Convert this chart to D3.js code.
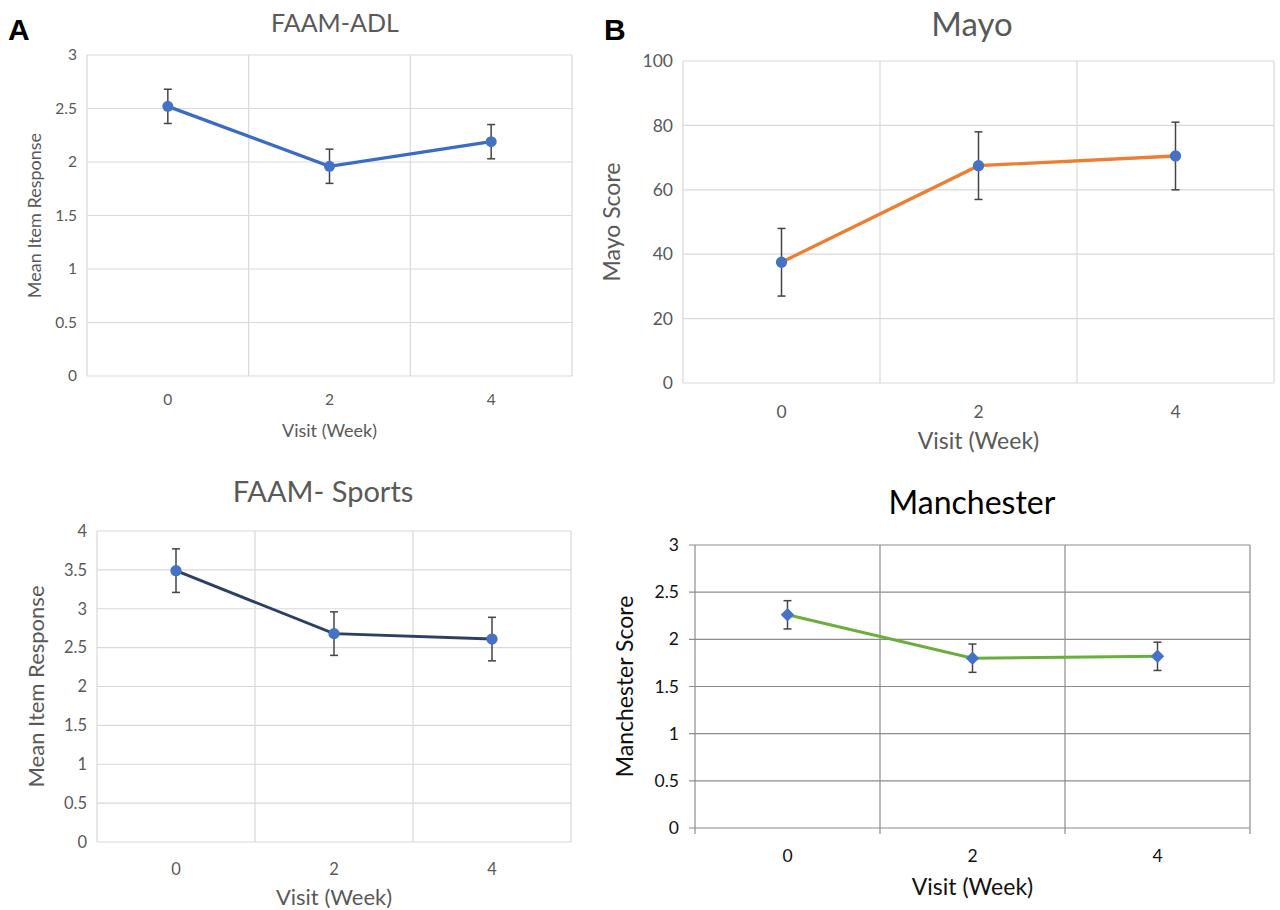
<!DOCTYPE html>
<html>
<head>
<meta charset="utf-8">
<script src="https://cdn.jsdelivr.net/npm/d3@7"></script>
<style>
  body { margin: 0; background: #fff; }
  svg { display: block; font-family: Lato, "Open Sans", sans-serif; }
</style>
</head>
<body>
<div id="wrapper"></div>
<script>
// Dados
const weeks = ["0", "2", "4"];

const adlMean = [2.52, 1.96, 2.19];
const adlErr = [0.16, 0.16, 0.16];
const adlTicks = [0, 0.5, 1, 1.5, 2, 2.5, 3];

const mayoMean = [37.5, 67.5, 70.5];
const mayoErr = [10.5, 10.5, 10.5];
const mayoTicks = [0, 20, 40, 60, 80, 100];

const sportsMean = [3.49, 2.68, 2.61];
const sportsErr = [0.28, 0.28, 0.28];
const sportsTicks = [0, 0.5, 1, 1.5, 2, 2.5, 3, 3.5, 4];

const manMean = [2.26, 1.80, 1.82];
const manErr = [0.15, 0.15, 0.15];
const manTicks = [0, 0.5, 1, 1.5, 2, 2.5, 3];

const svg = d3.select("#wrapper").append("svg")
  .attr("width", 1280).attr("height", 910);

// letras dos paineis
svg.append("text").attr("x", 8).attr("y", 40).text("A")
  .attr("font-family", "Liberation Sans, Arial, sans-serif")
  .attr("font-weight", "bold").attr("font-size", 30).attr("fill", "#000");
svg.append("text").attr("x", 604).attr("y", 40).text("B")
  .attr("font-family", "Liberation Sans, Arial, sans-serif")
  .attr("font-weight", "bold").attr("font-size", 30).attr("fill", "#000");

function panel(cfg) {
  const g = svg.append("g");
  const x = d3.scaleBand().domain(weeks).range([cfg.left, cfg.right]);
  const y = d3.scaleLinear().domain([0, d3.max(cfg.ticks)]).range([cfg.bottom, cfg.top]);

  // grade horizontal
  g.selectAll(".hg").data(cfg.ticks).join("line")
    .attr("x1", cfg.left - cfg.tickOut).attr("x2", cfg.right)
    .attr("y1", d => y(d)).attr("y2", d => y(d))
    .attr("stroke", cfg.grid).attr("stroke-width", 1.2);

  // grade vertical nas fronteiras das categorias
  const bounds = weeks.map(w => x(w)).concat([x(weeks[weeks.length - 1]) + x.bandwidth()]);
  g.selectAll(".vg").data(bounds).join("line")
    .attr("x1", d => d).attr("x2", d => d)
    .attr("y1", cfg.top).attr("y2", cfg.bottom + cfg.tickOut)
    .attr("stroke", cfg.grid).attr("stroke-width", 1.2);

  // rótulos dos ticks
  g.selectAll(".yl").data(cfg.ticks).join("text")
    .attr("x", cfg.left - cfg.tickOut - 10).attr("y", d => y(d))
    .attr("dy", "0.35em").attr("text-anchor", "end")
    .attr("font-size", cfg.tickSize).attr("fill", cfg.text)
    .text(d => d);
  g.selectAll(".xl").data(weeks).join("text")
    .attr("x", d => x(d) + x.bandwidth() / 2).attr("y", cfg.bottom + cfg.xTickGap)
    .attr("dy", "0.35em").attr("text-anchor", "middle")
    .attr("font-size", cfg.tickSize).attr("fill", cfg.text)
    .text(d => d);

  // títulos
  g.append("text").attr("x", cfg.titleX).attr("y", cfg.titleY)
    .attr("text-anchor", "middle").attr("dy", "0.35em")
    .attr("font-size", cfg.titleSize).attr("fill", cfg.titleColor || cfg.text)
    .text(cfg.title);
  g.append("text").attr("x", (cfg.left + cfg.right) / 2).attr("y", cfg.xTitleY)
    .attr("text-anchor", "middle").attr("dy", "0.35em")
    .attr("font-size", cfg.axisSize).attr("fill", cfg.text)
    .text("Visit (Week)");
  g.append("text")
    .attr("transform", "translate(" + cfg.yTitleX + "," + (cfg.top + cfg.bottom) / 2 + ") rotate(-90)")
    .attr("text-anchor", "middle").attr("dy", "0.35em")
    .attr("font-size", cfg.axisSize).attr("fill", cfg.text)
    .text(cfg.yTitle);

  const pts = weeks.map((w, i) => ({ x: x(w) + x.bandwidth() / 2, m: cfg.mean[i], e: cfg.err[i] }));

  // linha
  const line = d3.line().x(d => d.x).y(d => y(d.m));
  g.append("path").attr("d", line(pts))
    .attr("fill", "none").attr("stroke", cfg.lineColor).attr("stroke-width", cfg.lineWidth);

  // barras de erro
  const eb = g.selectAll(".eb").data(pts).join("g").attr("stroke", "#444").attr("stroke-width", 1.5);
  eb.append("line").attr("x1", d => d.x).attr("x2", d => d.x)
    .attr("y1", d => y(d.m - d.e)).attr("y2", d => y(d.m + d.e));
  eb.append("line").attr("x1", d => d.x - 4).attr("x2", d => d.x + 4)
    .attr("y1", d => y(d.m - d.e)).attr("y2", d => y(d.m - d.e));
  eb.append("line").attr("x1", d => d.x - 4).attr("x2", d => d.x + 4)
    .attr("y1", d => y(d.m + d.e)).attr("y2", d => y(d.m + d.e));

  // marcadores
  const sym = d3.symbol().type(cfg.marker).size(cfg.markerSize);
  g.selectAll(".mk").data(pts).join("path")
    .attr("d", sym)
    .attr("transform", d => "translate(" + d.x + "," + y(d.m) + ")")
    .attr("fill", "#4472c4");
}

panel({
  title: "FAAM-ADL", yTitle: "Mean Item Response",
  mean: adlMean, err: adlErr, ticks: adlTicks,
  left: 87, right: 572, top: 55, bottom: 376, tickOut: 0,
  grid: "#d9d9d9", text: "#595959", lineColor: "#3a6bc6", lineWidth: 3.3,
  tickSize: 15.5, axisSize: 18, titleSize: 25, titleX: 335, titleY: 23,
  xTickGap: 24, xTitleY: 431, yTitleX: 35,
  marker: d3.symbolCircle, markerSize: 95
});

panel({
  title: "Mayo", yTitle: "Mayo Score",
  mean: mayoMean, err: mayoErr, ticks: mayoTicks,
  left: 683, right: 1274, top: 61, bottom: 383, tickOut: 0,
  grid: "#d9d9d9", text: "#595959", lineColor: "#ed7d31", lineWidth: 3.3,
  tickSize: 17.5, axisSize: 23, titleSize: 33, titleX: 972, titleY: 24,
  xTickGap: 29, xTitleY: 441, yTitleX: 612,
  marker: d3.symbolCircle, markerSize: 100
});

panel({
  title: "FAAM- Sports", yTitle: "Mean Item Response",
  mean: sportsMean, err: sportsErr, ticks: sportsTicks,
  left: 97, right: 571, top: 531, bottom: 842, tickOut: 0,
  grid: "#d9d9d9", text: "#595959", lineColor: "#2c4063", lineWidth: 3,
  tickSize: 16.5, axisSize: 22, titleSize: 29, titleX: 323, titleY: 492,
  xTickGap: 27, xTitleY: 897, yTitleX: 36,
  marker: d3.symbolCircle, markerSize: 100
});

panel({
  title: "Manchester", yTitle: "Manchester Score",
  mean: manMean, err: manErr, ticks: manTicks,
  left: 695, right: 1250, top: 545, bottom: 828, tickOut: 6,
  grid: "#8c8c8c", text: "#111", titleColor: "#000", lineColor: "#6aae3e", lineWidth: 3,
  tickSize: 17.5, axisSize: 23, titleSize: 32, titleX: 972, titleY: 503,
  xTickGap: 28, xTitleY: 887, yTitleX: 625,
  marker: d3.symbolDiamond2, markerSize: 115
});
</script>
</body>
</html>
